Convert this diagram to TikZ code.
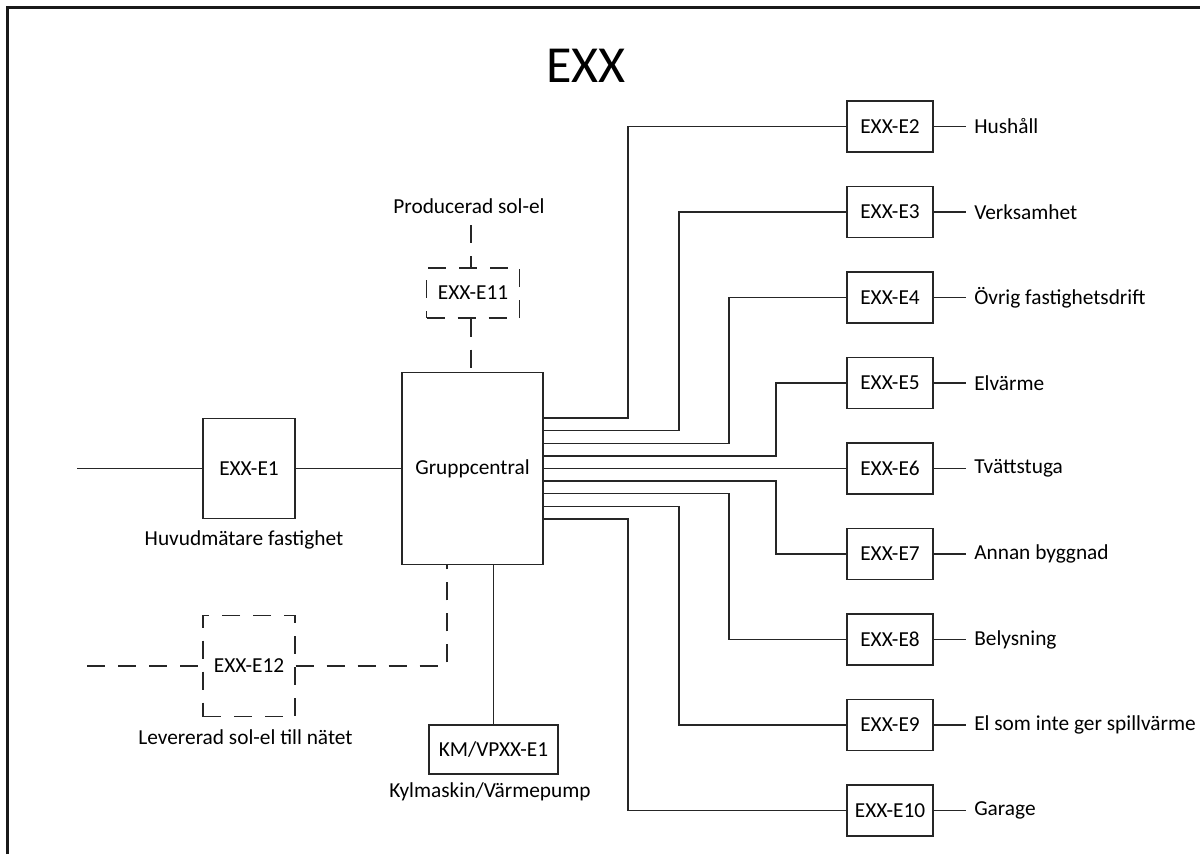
\documentclass[tikz,border=0pt]{standalone}
\usepackage{fontspec}
\setmainfont{Carlito}
\begin{document}
\begin{tikzpicture}[x=0.75pt,y=-0.75pt,
  ink/.style={draw=black!85,line width=1pt},
  meter/.style={ink,rectangle,inner sep=0pt,minimum width=64.5pt,minimum height=38.25pt,font=\fontsize{16}{19}\selectfont},
  dashpat/.style={dash pattern=on 13.5pt off 9.75pt},
  dmeter/.style={meter,dashpat},
  lbl/.style={inner sep=0pt,font=\fontsize{16}{19}\selectfont},
  tag/.style={lbl,anchor=west,inner xsep=6pt},
  wire/.style={ink},
  dwire/.style={ink,dashpat}]
\useasboundingbox (0,0) rectangle (1200,854);
% frame
\draw[black!90,line width=1.6pt] (7.5,854) -- (7.5,7.5) -- (1200,7.5);
% title
\node[inner sep=0pt,font=\fontsize{39}{44}\selectfont] (title) at (586,66) {EXX};
% central distribution board
\node[meter,minimum width=105.75pt,minimum height=144pt] (G) at (472.5,468.5) {Gruppcentral};
% incoming main meter
\coordinate (feed) at (77,468.5);
\node[meter,minimum width=69pt,minimum height=75pt] (E1) at (249,468.5) {EXX-E1};
\node[lbl] (E1l) at (244,540) {Huvudmätare fastighet};
\draw[wire] (feed) -- (E1.west);
\draw[wire] (E1.east) -- (G.west);
% solar production
\node[lbl] (PSl) at (469,206) {Producerad sol-el};
\coordinate (ps) at (471,225);
\node[dmeter,minimum width=69.75pt,minimum height=37.5pt] (E11) at (473,293) {EXX-E11};
\draw[dwire] (ps) -- (ps |- E11.north);
\draw[dwire] (E11.south -| ps) -- (G.north -| ps);
% solar export
\coordinate (grid) at (87,666);
\node[dmeter,minimum width=69pt,minimum height=75.75pt] (E12) at (249,666) {EXX-E12};
\node[lbl] (E12l) at (245.5,737) {Levererad sol-el till nätet};
\draw[dwire] (grid) -- (E12.west);
\draw[dwire] (E12.east) -| (G.south -| 447,0);
% chiller / heat pump
\node[meter,minimum width=96.75pt,minimum height=36.75pt] (KM) at (493.5,749.5) {KM/VPXX-E1};
\node[lbl] (KMl) at (490,792) {Kylmaskin/Värmepump};
\draw[wire] (KM.north) -- (KM.north |- G.south);
% sub-meters
\foreach \k/\name/\xb [count=\i from 0] in
  {2/Hushåll/628, 3/Verksamhet/679, 4/Övrig fastighetsdrift/729, 5/Elvärme/776,
   6/Tvättstuga/776, 7/Annan byggnad/776, 8/Belysning/729,
   9/El som inte ger spillvärme/679, 10/Garage/628}{
  \pgfmathsetmacro{\yb}{126.5+85.5*\i}
  \pgfmathsetmacro{\yt}{418+12.625*\i}
  \node[meter] (E\k) at (890,\yb) {EXX-E\k};
  \node[tag] (L\k) at (966,\yb) {\name};
  \draw[wire] (E\k.east) -- (L\k.west);
  \draw[wire] (G.east |- 0,\yt) -- (\xb,\yt) |- (E\k.west);
}
\end{tikzpicture}
\end{document}
